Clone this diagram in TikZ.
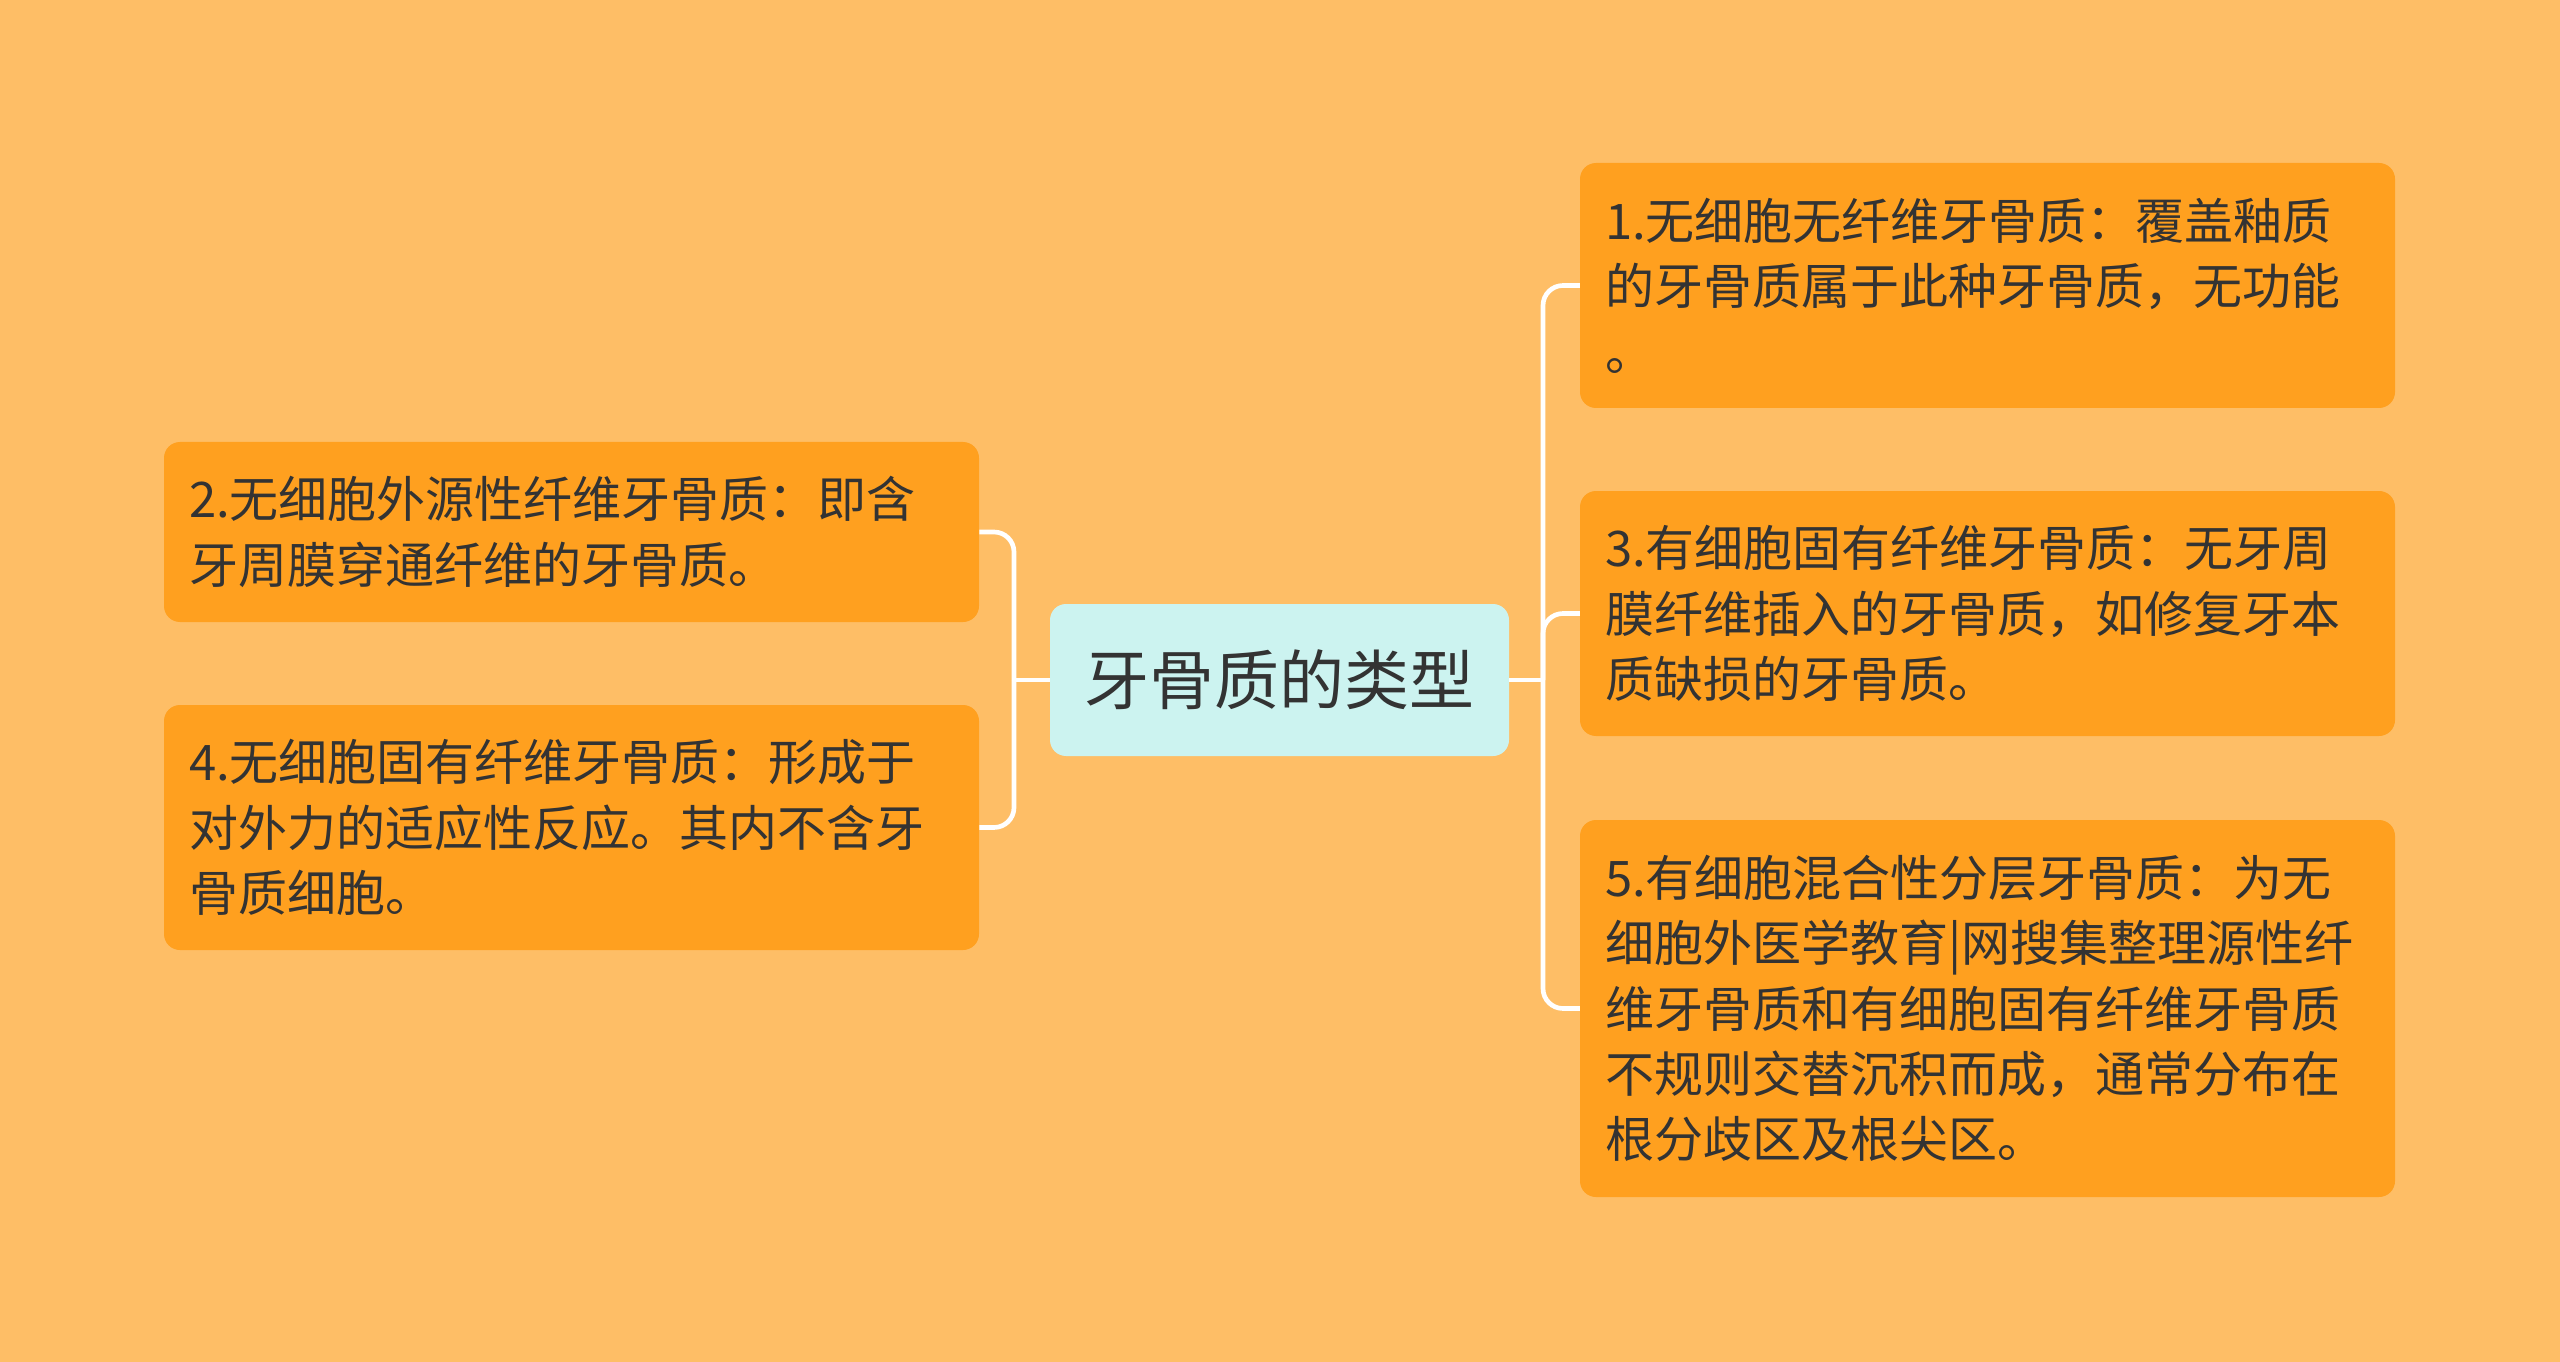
\documentclass[tikz,border=0pt]{standalone}
\usepackage{fontspec}
\setmainfont{Noto Sans CJK SC}
\newcommand{\pxu}{0.75pt}
\definecolor{bgc}{HTML}{FEBE66}
\definecolor{boxc}{HTML}{FFA01F}
\definecolor{cenc}{HTML}{CCF3F0}
\definecolor{txt}{HTML}{333333}
\begin{document}
\begin{tikzpicture}[x=0.75pt,y=-0.75pt,
  box/.style={fill=boxc, rounded corners=12pt, minimum width=815*\pxu,
    text width=765*\pxu, inner xsep=25*\pxu, inner ysep=0pt, align=left,
    font=\fontsize{36.75pt}{49pt}\selectfont, text=txt},
  cenbox/.style={fill=cenc, rounded corners=12pt, minimum width=459*\pxu,
    minimum height=152*\pxu, inner sep=0pt, align=center,
    font=\fontsize{48.75pt}{60pt}\selectfont, text=txt},
  conn/.style={draw=white, line width=3.5pt, rounded corners=15pt}]
\useasboundingbox (0,0) rectangle (2560,1362);
\fill[bgc] (0,0) rectangle (2560,1362);

\node[cenbox] (c) at (1279.5,680) {牙骨质的类型};

\node[box, minimum height=180*\pxu] (b2) at (571.5,532)
  {2.无细胞外源性纤维牙骨质：即含\\牙周膜穿通纤维的牙骨质。};
\node[box, minimum height=245*\pxu] (b4) at (571.5,827.5)
  {4.无细胞固有纤维牙骨质：形成于\\对外力的适应性反应。其内不含牙\\骨质细胞。};
\node[box, minimum height=245*\pxu] (b1) at (1987.5,285.5)
  {1.无细胞无纤维牙骨质：覆盖釉质\\的牙骨质属于此种牙骨质，无功能\\。};
\node[box, minimum height=245*\pxu] (b3) at (1987.5,613.5)
  {3.有细胞固有纤维牙骨质：无牙周\\膜纤维插入的牙骨质，如修复牙本\\质缺损的牙骨质。};
\node[box, minimum height=377*\pxu] (b5) at (1987.5,1008.5)
  {5.有细胞混合性分层牙骨质：为无\\细胞外医学教育|网搜集整理源性纤\\维牙骨质和有细胞固有纤维牙骨质\\不规则交替沉积而成，通常分布在\\根分歧区及根尖区。};

\coordinate (rj) at (1543,680);
\coordinate (lj) at (1014,680);

\draw[conn] (c.east) -- (rj);
\draw[conn] (rj) |- (b1.west);
\draw[conn] (rj) |- (b3.west);
\draw[conn] (rj) |- (b5.west);
\draw[conn] (c.west) -- (lj);
\draw[conn] (lj) |- (b2.east);
\draw[conn] (lj) |- (b4.east);
\end{tikzpicture}
\end{document}
